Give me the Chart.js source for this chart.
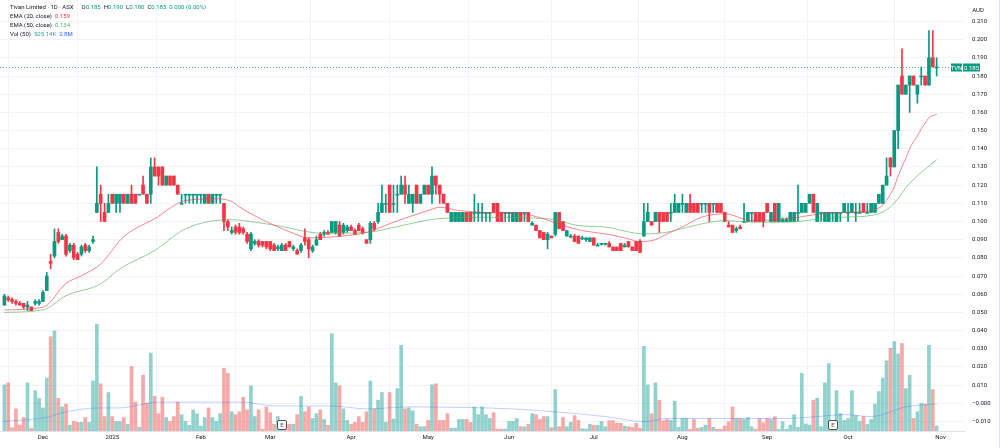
<!DOCTYPE html>
<html><head><meta charset="utf-8">
<script src="https://cdn.jsdelivr.net/npm/chart.js@4.4.1/dist/chart.umd.min.js"></script>
<style>html,body{margin:0;padding:0;background:#fff;}canvas{display:block;}</style>
</head><body>
<canvas id="c" width="1000" height="448"></canvas>
<script>
// ---- DATA, one row = 10 daily bars ----
const open = [
/*0*/  .054,.058,.057,.056,.055,.055,.053,.053,.055,.055,
/*10*/ .056,.062,.078,.081,.094,.090,.092,.084,.087,.082,
/*20*/ .082,.087,.084,.089,.105,.115,.105,.105,.115,.110,
/*30*/ .110,.115,.110,.115,.115,.115,.120,.115,.115,.130,
/*40*/ .130,.130,.120,.125,.125,.120,.110,.115,.115,.115,
/*50*/ .115,.115,.110,.115,.110,.115,.115,.110,.100,.094,
/*60*/ .097,.097,.096,.093,.085,.088,.089,.089,.089,.089,
/*70*/ .087,.085,.084,.087,.089,.085,.084,.084,.091,.090,
/*80*/ .084,.087,.093,.093,.094,.094,.094,.098,.094,.095,
/*90*/ .097,.095,.098,.096,.090,.090,.099,.100,.105,.110,
/*100*/.120,.110,.115,.115,.120,.110,.110,.120,.110,.115,
/*110*/.120,.115,.125,.120,.115,.110,.100,.100,.100,.100,
/*120*/.105,.105,.105,.105,.105,.105,.105,.110,.110,.105,
/*130*/.105,.105,.100,.100,.105,.105,.105,.098,.098,.095,
/*140*/.094,.090,.092,.093,.105,.100,.092,.092,.092,.092,
/*150*/.091,.090,.089,.091,.087,.088,.088,.088,.086,.086,
/*160*/.088,.086,.089,.086,.089,.089,.092,.100,.100,.100,
/*170*/.105,.105,.105,.105,.105,.105,.110,.105,.110,.110,
/*180*/.110,.110,.110,.110,.110,.110,.110,.105,.098,.098,
/*190*/.095,.097,.100,.100,.105,.105,.105,.105,.110,.100,
/*200*/.110,.100,.100,.100,.100,.100,.105,.105,.105,.110,
/*210*/.115,.100,.105,.100,.100,.105,.100,.105,.105,.105,
/*220*/.105,.105,.105,.110,.105,.105,.105,.110,.110,.120,
/*230*/.135,.130,.150,.180,.170,.175,.180,.170,.180,.180,
/*240*/.175,.190,.185];
const high = [
/*0*/  .060,.059,.058,.057,.056,.055,.056,.053,.057,.057,
/*10*/ .062,.072,.082,.096,.096,.093,.093,.088,.088,.083,
/*20*/ .087,.088,.087,.092,.130,.120,.110,.115,.115,.115,
/*30*/ .115,.115,.115,.120,.115,.115,.125,.115,.135,.135,
/*40*/ .130,.130,.125,.125,.125,.120,.115,.115,.115,.115,
/*50*/ .115,.115,.115,.115,.115,.115,.115,.110,.101,.097,
/*60*/ .098,.099,.097,.094,.094,.090,.090,.089,.089,.089,
/*70*/ .088,.087,.088,.088,.089,.087,.085,.088,.096,.091,
/*80*/ .087,.092,.094,.095,.095,.100,.100,.100,.099,.098,
/*90*/ .098,.096,.099,.097,.090,.100,.100,.110,.120,.115,
/*100*/.120,.120,.120,.125,.125,.120,.115,.120,.115,.120,
/*110*/.120,.130,.125,.120,.115,.110,.105,.105,.105,.105,
/*120*/.105,.105,.115,.110,.110,.105,.105,.110,.110,.105,
/*130*/.105,.105,.105,.105,.105,.105,.105,.100,.098,.095,
/*140*/.094,.094,.092,.105,.105,.100,.095,.093,.093,.092,
/*150*/.092,.091,.091,.091,.088,.088,.088,.089,.086,.086,
/*160*/.088,.088,.089,.086,.089,.090,.110,.110,.100,.105,
/*170*/.105,.105,.105,.110,.115,.110,.115,.110,.115,.110,
/*180*/.110,.110,.110,.110,.110,.110,.110,.105,.100,.098,
/*190*/.097,.098,.110,.105,.105,.105,.105,.105,.110,.105,
/*200*/.110,.110,.102,.102,.105,.105,.120,.110,.110,.115,
/*210*/.115,.110,.105,.105,.105,.105,.105,.105,.110,.110,
/*220*/.110,.110,.110,.110,.110,.110,.110,.115,.120,.135,
/*230*/.135,.150,.175,.195,.175,.180,.180,.175,.185,.180,
/*240*/.205,.205,.190];
const low = [
/*0*/  .054,.056,.055,.054,.054,.052,.051,.051,.054,.054,
/*10*/ .056,.062,.074,.080,.088,.090,.081,.083,.079,.079,
/*20*/ .081,.083,.083,.088,.105,.100,.100,.105,.110,.105,
/*30*/ .105,.110,.110,.110,.110,.115,.115,.110,.110,.125,
/*40*/ .120,.120,.120,.120,.120,.115,.110,.110,.110,.110,
/*50*/ .110,.110,.110,.110,.110,.110,.110,.095,.095,.093,
/*60*/ .093,.093,.093,.088,.084,.087,.086,.086,.085,.084,
/*70*/ .084,.084,.084,.084,.086,.084,.082,.083,.087,.080,
/*80*/ .083,.087,.090,.092,.093,.094,.093,.092,.093,.094,
/*90*/ .095,.093,.095,.093,.088,.088,.095,.099,.105,.105,
/*100*/.105,.105,.105,.115,.110,.110,.105,.110,.110,.115,
/*110*/.115,.110,.115,.110,.110,.105,.100,.100,.100,.100,
/*120*/.100,.100,.100,.100,.100,.100,.100,.105,.100,.100,
/*130*/.100,.100,.100,.100,.100,.100,.100,.098,.095,.091,
/*140*/.090,.085,.091,.092,.096,.095,.092,.091,.089,.088,
/*150*/.090,.089,.089,.087,.087,.087,.087,.086,.084,.084,
/*160*/.084,.086,.086,.084,.084,.083,.092,.100,.098,.100,
/*170*/.094,.100,.100,.100,.105,.105,.105,.105,.105,.105,
/*180*/.105,.105,.105,.100,.105,.105,.105,.100,.097,.094,
/*190*/.094,.096,.100,.100,.100,.100,.100,.097,.105,.100,
/*200*/.100,.100,.100,.100,.100,.100,.100,.105,.105,.110,
/*210*/.105,.100,.100,.100,.100,.100,.100,.100,.105,.100,
/*220*/.105,.100,.105,.105,.105,.105,.105,.110,.110,.120,
/*230*/.125,.130,.140,.170,.170,.160,.175,.165,.175,.175,
/*240*/.175,.185,.180];
const close = [
/*0*/  .059,.057,.056,.055,.054,.053,.054,.051,.056,.056,
/*10*/ .061,.070,.077,.089,.089,.092,.082,.087,.080,.079,
/*20*/ .086,.084,.086,.090,.110,.110,.100,.110,.110,.115,
/*30*/ .115,.110,.115,.110,.110,.115,.115,.110,.130,.125,
/*40*/ .125,.120,.125,.120,.120,.115,.110,.115,.115,.115,
/*50*/ .115,.115,.115,.110,.115,.115,.115,.100,.097,.095,
/*60*/ .094,.094,.094,.089,.093,.089,.087,.087,.086,.085,
/*70*/ .084,.086,.087,.084,.086,.086,.082,.087,.089,.085,
/*80*/ .086,.090,.090,.094,.093,.100,.100,.092,.098,.097,
/*90*/ .095,.093,.095,.094,.088,.099,.096,.105,.110,.110,
/*100*/.105,.110,.115,.120,.115,.115,.115,.110,.115,.120,
/*110*/.115,.125,.120,.115,.110,.105,.105,.105,.105,.105,
/*120*/.100,.100,.105,.105,.105,.105,.105,.105,.100,.100,
/*130*/.105,.105,.105,.105,.100,.105,.100,.099,.095,.091,
/*140*/.090,.093,.091,.105,.096,.095,.095,.092,.089,.088,
/*150*/.091,.091,.091,.087,.087,.088,.088,.086,.084,.084,
/*160*/.084,.087,.086,.084,.084,.083,.100,.105,.098,.105,
/*170*/.100,.100,.100,.105,.110,.110,.110,.110,.105,.105,
/*180*/.105,.110,.110,.105,.110,.105,.105,.100,.097,.094,
/*190*/.096,.096,.100,.105,.105,.100,.100,.100,.105,.105,
/*200*/.100,.110,.101,.101,.105,.105,.105,.110,.110,.115,
/*210*/.105,.110,.105,.105,.105,.105,.105,.105,.110,.105,
/*220*/.110,.105,.105,.105,.105,.110,.110,.115,.120,.125,
/*230*/.130,.150,.175,.170,.175,.180,.175,.175,.180,.175,
/*240*/.190,.185,.185];
// volume, millions of shares
const volume = [
/*0*/  4.8,5.0,0.34,2.3,0.62,1.4,5.0,0.28,4.2,3.4,
/*10*/ 2.4,5.5,9.8,10.4,3.4,2.5,2.8,0.6,1.0,0.9,
/*20*/ 0.9,1.4,0.9,5.2,11.1,4.9,1.5,4.0,1.5,1.0,
/*30*/ 1.0,1.4,0.7,6.7,3.0,0.4,5.8,2.9,8.1,3.6,
/*40*/ 1.8,3.5,1.4,1.0,1.5,3.0,1.7,1.0,0.6,2.2,
/*50*/ 1.8,0.5,1.4,2.4,1.4,1.0,1.8,6.5,6.0,2.0,
/*60*/ 1.7,2.0,3.5,2.2,4.7,1.5,2.2,0.2,2.5,1.9,
/*70*/ 0.7,1.5,0.7,0.7,0.7,0.7,1.7,3.6,2.0,2.5,
/*80*/ 1.3,1.8,2.2,1.2,0.6,10.1,5.0,4.7,2.3,1.1,
/*90*/ 0.7,0.9,1.5,0.9,2.0,5.2,2.3,3.2,4.0,0.9,
/*100*/4.0,1.25,4.4,8.9,2.3,2.4,2.1,0.7,0.45,0.45,
/*110*/1.1,4.8,4.9,1.1,1.1,1.8,0.3,0.3,1.2,1.2,
/*120*/1.2,0.9,2.5,1.7,2.5,1.7,1.3,1.9,0.2,0.2,
/*130*/0.2,1.0,1.0,1.3,0.45,0.45,0.7,1.8,1.7,1.2,
/*140*/1.5,1.5,0.35,4.3,0.45,1.4,0.45,0.9,1.6,1.1,
/*150*/0.25,0.2,0.7,0.6,0.6,1.0,0.45,1.07,1.07,0.8,
/*160*/0.8,0.52,0.45,0.38,0.8,0.28,8.8,4.8,1.8,5.0,
/*170*/3.2,1.07,1.2,1.1,3.1,0.38,1.3,1.3,0.18,1.2,
/*180*/0.28,0.38,0.6,1.3,0.38,0.18,0.18,0.52,0.97,2.5,
/*190*/1.3,1.3,1.2,1.4,0.45,0.18,1.3,0.86,1.3,1.2,
/*200*/1.5,0.18,0.97,0.18,0.62,1.7,0.38,6.0,0.73,0.62,
/*210*/3.2,3.4,0.45,5.0,7.0,0.97,4.2,1.8,1.1,1.3,
/*220*/4.2,1.6,1.0,1.5,0.7,1.2,2.8,4.1,5.5,7.3,
/*230*/8.6,9.3,8.0,9.1,4.4,5.8,1.3,2.0,2.9,2.8,
/*240*/8.9,4.3,0.50514];
// indicator lines read at sample bars
const ema20Idx = [0,10,16,20,25,31,39,47,55,59,61,66,70,75,79,85,94,101,110,113,118,125,135,140,145,150,156,161,165,169,172,176,181,187,194,203,212,218,225,228,230,231,232,233,234,235,236,237,238,239,240,242];
const ema20    = [.0514,.0528,.066,.0702,.0767,.0917,.1015,.1115,.1125,.111,.108,.102,.098,.0935,.091,.0915,.094,.0996,.106,.1078,.106,.105,.104,.1015,.0978,.095,.0932,.091,.089,.090,.0932,.097,.1024,.1042,.1005,.1015,.1042,.1051,.106,.109,.115,.119,.125,.130,.135,.140,.144,.147,.151,.154,.157,.159];
const ema50Idx = [0,10,16,25,30,39,47,59,62,70,83,94,103,112,125,141,149,156,166,172,181,187,194,203,212,218,225,230,235,242];
const ema50    = [.050,.0514,.0592,.0657,.074,.084,.096,.101,.1005,.098,.0935,.094,.0977,.1014,.1023,.1015,.0978,.0969,.0932,.0941,.0987,.1005,.0996,.0996,.1015,.1024,.1033,.108,.121,.134];
const volMaIdx = [0,12,14,25,30,40,62,70,85,94,105,125,136,156,166,172,187,203,211,218,225,234,242];
const volMa    = [1.0,1.5,1.8,2.4,2.4,3.0,3.0,2.6,2.6,2.3,2.5,2.4,2.2,1.5,0.97,1.3,1.3,1.3,1.5,1.7,1.5,2.5,2.8];
// axis ticks
const monthIdx    = [10,28,51,69,90,110,131,153,176,198,219,243];
const monthLabels = ['Dec','2025','Feb','Mar','Apr','May','Jun','Jul','Aug','Sep','Oct','Nov'];
const priceTicks  = [0.21,0.20,0.19,0.18,0.17,0.16,0.15,0.14,0.13,0.12,0.11,0.10,0.09,0.08,0.07,0.06,0.05,0.04,0.03,0.02,0.01,0,-0.01];
const priceTickLabels = ['0.210','0.200','0.190','0.180','0.170','0.160','0.150','0.140','0.130','0.120','0.110','0.100','0.090','0.080','0.070','0.060','0.050','0.040','0.030','0.020','0.010','\u22120.000','\u22120.010'];
const earningsIdx = [72,215];
const title = 'Tivan Limited \u00b7 1D \u00b7 ASX';
const ticker = 'TVN';
const currency = 'AUD';

// ---- styling ----
const UP = '#089981', DOWN = '#F23645';
const UPV = 'rgba(38,166,154,0.5)', DOWNV = 'rgba(239,83,80,0.5)';
const FONT = 'Roboto, "DejaVu Sans", sans-serif';
const isUp = i => close[i] >= open[i];
const idx = close.map((_, i) => i);

const overlay = {
  id: 'overlay',
  afterDraw(chart) {
    const {ctx, chartArea: a, scales: {x, y}} = chart;
    const n = close.length - 1;
    ctx.save();
    const last = close[n];
    const py = Math.round(y.getPixelForValue(last)) + 0.5;
    ctx.strokeStyle = 'rgba(8,153,129,0.75)'; ctx.lineWidth = 1; ctx.setLineDash([1, 2]);
    ctx.beginPath(); ctx.moveTo(a.left, py); ctx.lineTo(a.right, py); ctx.stroke();
    ctx.setLineDash([]);
    ctx.font = '6px ' + FONT; ctx.textBaseline = 'middle';
    ctx.fillStyle = UP;
    ctx.fillRect(951, py - 4, 11, 8);
    ctx.fillRect(963, py - 4, 17, 8);
    ctx.fillStyle = '#fff'; ctx.textAlign = 'center';
    ctx.fillText(ticker, 956.5, py + 0.5);
    ctx.fillText(last.toFixed(3), 971.5, py + 0.5);
    ctx.fillStyle = '#131722'; ctx.textAlign = 'center';
    ctx.fillText(currency, 978, 10);
    earningsIdx.forEach(i => {
      const ex = Math.round(x.getPixelForValue(i));
      ctx.fillStyle = '#fff'; ctx.strokeStyle = '#505050'; ctx.lineWidth = 1;
      ctx.beginPath(); ctx.roundRect(ex - 4.5, 420.5, 9, 9, 1.5); ctx.fill(); ctx.stroke();
      ctx.fillStyle = '#505050'; ctx.textAlign = 'center'; ctx.font = '6px ' + FONT;
      ctx.fillText('E', ex, 425.5);
    });
    ctx.textAlign = 'left'; ctx.font = '6px ' + FONT;
    let cx = 10, ly = 7.5;
    const put = (t, c, gap) => { ctx.fillStyle = c; ctx.fillText(t, cx, ly); cx += ctx.measureText(t).width + (gap || 0); };
    const prev = close[n - 1], chg = last - prev;
    put(title, '#131722', 8);
    put('O', '#131722'); put(open[n].toFixed(3), UP, 3);
    put('H', '#131722'); put(high[n].toFixed(3), UP, 3);
    put('L', '#131722'); put(low[n].toFixed(3), UP, 3);
    put('C', '#131722'); put(last.toFixed(3), UP, 3);
    put(chg.toFixed(3) + ' (' + (chg / prev * 100).toFixed(2) + '%)', UP);
    ly = 16.5; cx = 10;
    put('EMA (20, close)', '#131722', 3); put(ema20[ema20.length - 1].toFixed(3), '#F23645');
    ly = 25.5; cx = 10;
    put('EMA (50, close)', '#131722', 3); put(ema50[ema50.length - 1].toFixed(3), '#4CAF50');
    ly = 34.5; cx = 10;
    put('Vol (50)', '#131722', 3);
    put((volume[n] * 1000).toFixed(2) + 'K', '#26a69a', 3);
    put(volMa[volMa.length - 1].toFixed(1) + 'M', '#2962FF');
    ctx.strokeStyle = '#e0e3eb';
    ctx.beginPath(); ctx.moveTo(999.5, 0); ctx.lineTo(999.5, 448); ctx.stroke();
    ctx.restore();
  }
};

const lineDs = (label, xs, ys, color, axis, order) => ({
  type: 'line', label, yAxisID: axis, order,
  data: xs.map((k, j) => ({x: k, y: ys[j]})),
  borderColor: color, borderWidth: 1, pointRadius: 0, cubicInterpolationMode: 'monotone'
});

new Chart(document.getElementById('c'), {
  type: 'bar',
  data: {
    datasets: [
      lineDs('EMA20', ema20Idx, ema20, 'rgba(242,54,69,0.6)', 'y', 1),
      lineDs('EMA50', ema50Idx, ema50, 'rgba(76,175,80,0.6)', 'y', 1),
      { label: 'body', yAxisID: 'y', order: 2, grouped: false, barThickness: 3, minBarLength: 1,
        data: idx.map(i => ({x: i, y: [open[i], close[i]]})),
        backgroundColor: idx.map(i => isUp(i) ? UP : DOWN) },
      { label: 'wick', yAxisID: 'y', order: 3, grouped: false, barThickness: 1,
        data: idx.map(i => ({x: i, y: [low[i], high[i]]})),
        backgroundColor: idx.map(i => isUp(i) ? UP : DOWN) },
      lineDs('VolMA', volMaIdx, volMa, 'rgba(41,98,255,0.3)', 'yv', 8),
      { label: 'vol', yAxisID: 'yv', order: 9, grouped: false, barThickness: 3,
        data: idx.map(i => ({x: i, y: volume[i]})),
        backgroundColor: idx.map(i => isUp(i) ? UPV : DOWNV) }
    ]
  },
  options: {
    responsive: false, animation: false, devicePixelRatio: 1,
    layout: { padding: 0 },
    plugins: { legend: { display: false }, tooltip: { enabled: false } },
    scales: {
      x: { type: 'linear', position: 'bottom', min: -1.14, max: 249.1, offset: false,
        afterBuildTicks: s => { s.ticks = monthIdx.map(v => ({value: v})); },
        afterFit: s => { s.height = 17; s.paddingLeft = 0; s.paddingRight = 0; },
        ticks: { autoSkip: false, maxRotation: 0, padding: 3, color: '#131722', font: {size: 6, family: FONT},
          callback: (v, k) => monthLabels[k] },
        grid: { color: '#f0f3fa', drawTicks: false }, border: { color: '#e0e3eb' } },
      y: { type: 'linear', position: 'right', min: -0.0152, max: 0.2218,
        afterBuildTicks: s => { s.ticks = priceTicks.map(v => ({value: v})); },
        afterFit: s => { s.width = 36; s.paddingTop = 0; s.paddingBottom = 0; },
        ticks: { padding: 8, color: '#131722', font: {size: 6, family: FONT},
          callback: (v, k) => priceTickLabels[k] },
        grid: { color: '#f0f3fa', drawTicks: false }, border: { display: false } },
      yv: { type: 'linear', display: false, min: 0, max: 44.8 }
    }
  },
  plugins: [overlay]
});
</script>
</body></html>
